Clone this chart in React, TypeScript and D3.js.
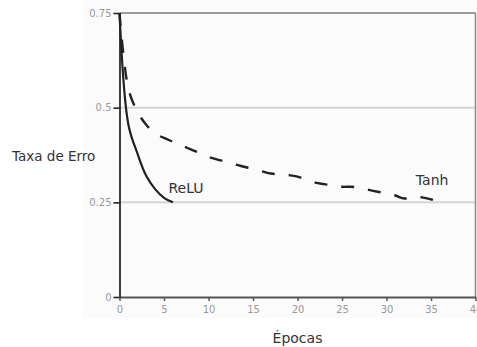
import React, { useEffect, useRef } from "react";
import * as d3 from "d3";

// epochs and error rates
const reluEpochs = [0, 1, 2, 3, 4, 5, 6];
const reluErr = [0.75, 0.455, 0.38, 0.32, 0.285, 0.262, 0.25];

const tanhEpochs = [0, 1, 2, 3, 4, 5, 6, 7, 8, 9, 10, 11, 12, 13, 14, 15, 16, 17, 18, 19, 20, 21, 22, 23, 24, 25, 26, 27, 28, 29, 30, 31, 32, 33, 34, 35, 36];
const tanhErr = [
  0.75, 0.55, 0.49, 0.455, 0.432, 0.42, 0.41, 0.4, 0.39, 0.38, 0.37, 0.363, 0.357, 0.35, 0.344, 0.338,
  0.332, 0.326, 0.324, 0.322, 0.318, 0.31, 0.302, 0.298, 0.294, 0.291, 0.291, 0.289, 0.283, 0.278,
  0.274, 0.268, 0.26, 0.266, 0.263, 0.258, 0.25,
];

const xTicks = [0, 5, 10, 15, 20, 25, 30, 35, 40];
const yTicks = [0, 0.25, 0.5, 0.75];
const yTickLabels = ["0", "0.25", "0.5", "0.75"];

export default function App() {
  const svgRef = useRef<SVGSVGElement>(null);

  useEffect(() => {
    const svg = d3.select(svgRef.current);
    svg.selectAll("*").remove();
    const width = 477;

    const x = d3.scaleLinear().domain([0, 40]).range([119.5, 475.5]);
    const y = d3.scaleLinear().domain([0, 0.75]).range([297, 13]);

    // faint background
    svg
      .append("rect")
      .attr("x", 83)
      .attr("y", 0)
      .attr("width", width - 83)
      .attr("height", 318)
      .attr("fill", "#fbfbfb");

    // grid
    svg
      .append("g")
      .selectAll("line")
      .data([0.25, 0.5])
      .enter()
      .append("line")
      .attr("x1", x(0))
      .attr("x2", x(40))
      .attr("y1", (d) => y(d))
      .attr("y2", (d) => y(d))
      .attr("stroke", "#d4d4d4")
      .attr("stroke-width", 2);

    svg
      .append("line")
      .attr("x1", x(0))
      .attr("x2", x(40))
      .attr("y1", y(0.75))
      .attr("y2", y(0.75))
      .attr("stroke", "#9a9a9a")
      .attr("stroke-width", 2);

    svg
      .append("line")
      .attr("x1", x(40))
      .attr("x2", x(40))
      .attr("y1", y(0.75))
      .attr("y2", y(0))
      .attr("stroke", "#8a8a8a")
      .attr("stroke-width", 1.5);

    const tickFont = "DejaVu Sans, Verdana, sans-serif";

    // x axis
    const xAxis = d3
      .axisBottom(x)
      .tickValues(xTicks)
      .tickSize(4)
      .tickSizeOuter(0)
      .tickFormat(d3.format("d"));
    const gx = svg.append("g").attr("transform", `translate(0, ${y(0)})`).call(xAxis);
    gx.select(".domain").attr("stroke", "#555").attr("stroke-width", 2);
    gx.selectAll(".tick line").attr("stroke", "#555").attr("stroke-width", 1.5);
    gx.selectAll(".tick text")
      .attr("fill", "#999")
      .attr("font-family", tickFont)
      .attr("font-size", "10px")
      .attr("dy", "0.9em");

    // y axis
    const yAxis = d3
      .axisLeft(y)
      .tickValues(yTicks)
      .tickSize(6)
      .tickSizeOuter(0)
      .tickFormat((d, i) => yTickLabels[i]);
    const gy = svg.append("g").attr("transform", `translate(${x(0)}, 0)`).call(yAxis);
    gy.select(".domain").attr("stroke", "#111").attr("stroke-width", 1.6);
    gy.selectAll(".tick line").attr("stroke", "#222").attr("stroke-width", 1.6);
    gy.selectAll(".tick text")
      .attr("fill", "#999")
      .attr("font-family", tickFont)
      .attr("font-size", "10px")
      .attr("x", -8);

    const line = d3
      .line<[number, number]>()
      .x((d) => x(d[0]))
      .y((d) => y(d[1]))
      .curve(d3.curveCatmullRom.alpha(0.5));

    svg
      .append("path")
      .datum(tanhEpochs.map((e, i) => [e, tanhErr[i]] as [number, number]))
      .attr("d", line)
      .attr("fill", "none")
      .attr("stroke", "#222")
      .attr("stroke-width", 2.4)
      .attr("stroke-dasharray", "13,14");

    svg
      .append("path")
      .datum(reluEpochs.map((e, i) => [e, reluErr[i]] as [number, number]))
      .attr("d", line)
      .attr("fill", "none")
      .attr("stroke", "#222")
      .attr("stroke-width", 2.2);

    const labelFont = "DejaVu Sans, Verdana, sans-serif";
    svg
      .append("text")
      .attr("x", x(5.5))
      .attr("y", y(0.275))
      .attr("font-family", labelFont)
      .attr("font-size", "14px")
      .attr("fill", "#333")
      .text("ReLU");

    svg
      .append("text")
      .attr("x", x(33.3))
      .attr("y", y(0.295))
      .attr("font-family", labelFont)
      .attr("font-size", "14px")
      .attr("fill", "#333")
      .text("Tanh");

    svg
      .append("text")
      .attr("x", 12)
      .attr("y", 161)
      .attr("font-family", labelFont)
      .attr("font-size", "13.5px")
      .attr("fill", "#333")
      .text("Taxa de Erro");

    svg
      .append("text")
      .attr("x", x(20))
      .attr("y", 343)
      .attr("text-anchor", "middle")
      .attr("font-family", labelFont)
      .attr("font-size", "14px")
      .attr("fill", "#333")
      .text("Épocas");
  }, []);

  return (
    <svg
      ref={svgRef}
      width={477}
      height={347}
      style={{ position: "absolute", left: 0, top: 0, background: "#fff" }}
    />
  );
}
